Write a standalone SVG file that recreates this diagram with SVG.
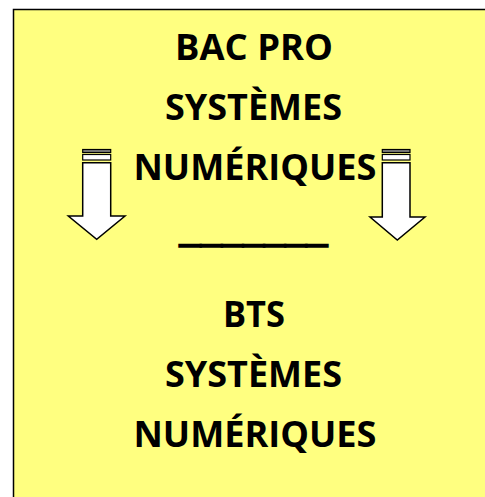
<svg xmlns="http://www.w3.org/2000/svg" width="485" height="497" viewBox="0 0 485 497">
<style>
.t{font-family:"Open Sans","Lato","Liberation Sans",sans-serif;font-weight:bold;font-size:35px;fill:#000;text-anchor:middle}
.a{fill:#fff;stroke:#000;stroke-width:1.5;stroke-linejoin:miter}
.g{fill:#808080;stroke:#000;stroke-width:1.2}
.w{fill:#fff;stroke:#000;stroke-width:1.2}
</style>
<g id="box">
<rect x="13.5" y="9.5" width="490" height="500" fill="#FFFF80" stroke="#000" stroke-width="1.5"/>
</g>
<g id="arrow-left">
<rect class="g" x="82.7" y="149.5" width="28" height="3"/>
<rect class="w" x="82.7" y="154.5" width="28" height="5.5"/>
<path class="a" d="M82.7,162.7 H110.7 V216 H125 L96.7,239.3 L68.3,216 H82.7 Z"/>
</g>
<g id="arrow-right">
<rect class="g" x="382.3" y="149.5" width="27.7" height="3"/>
<rect class="w" x="382.3" y="154.5" width="27.7" height="5.5"/>
<path class="a" d="M382.3,162.7 H410 V217 H425 L397.3,240 L370,217 H382.3 Z"/>
</g>
<g id="text">
<text class="t" x="254" y="60" textLength="158" lengthAdjust="spacingAndGlyphs">BAC PRO</text>
<text class="t" x="253.5" y="120" textLength="177" lengthAdjust="spacingAndGlyphs">SYSTÈMES</text>
<text class="t" x="255" y="180" textLength="243" lengthAdjust="spacingAndGlyphs">NUMÉRIQUES</text>
<text class="t" x="253.5" y="241" textLength="148" lengthAdjust="spacingAndGlyphs" stroke="#000" stroke-width="1.6">_______</text>
<text class="t" x="254" y="327" textLength="62" lengthAdjust="spacingAndGlyphs">BTS</text>
<text class="t" x="253.5" y="387" textLength="177" lengthAdjust="spacingAndGlyphs">SYSTÈMES</text>
<text class="t" x="255" y="447" textLength="243" lengthAdjust="spacingAndGlyphs">NUMÉRIQUES</text>
</g>
</svg>
